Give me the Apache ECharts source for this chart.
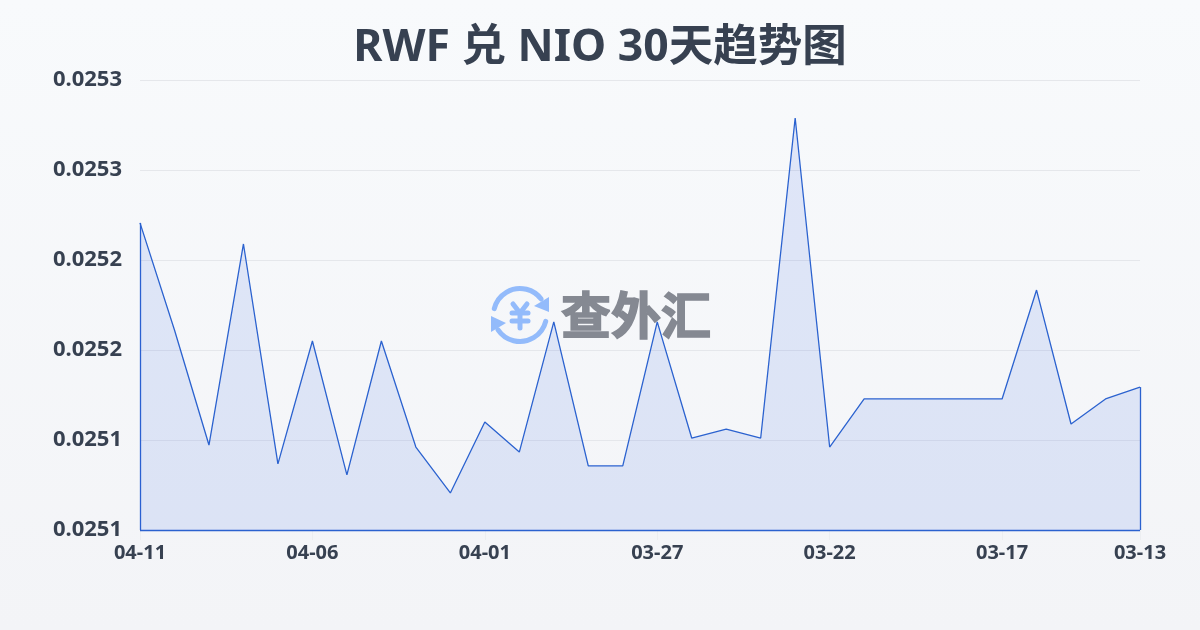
<!DOCTYPE html>
<html><head><meta charset="utf-8">
<style>html,body{margin:0;padding:0;background:#f8fafc}#c{width:1200px;height:630px}</style>
<script src="https://cdn.jsdelivr.net/npm/echarts@6/dist/echarts.min.js"></script>
</head><body><div id="c"></div>
<script>
const titleText = 'RWF 兑 NIO 30天趋势图';
const watermarkText = '查外汇';
const dates = ['04-11','04-10','04-09','04-08','04-07','04-06','04-05','04-04','04-03','04-02','04-01','03-31','03-30','03-29','03-28','03-27','03-26','03-25','03-24','03-23','03-22','03-21','03-20','03-19','03-18','03-17','03-16','03-15','03-14','03-13'];
const rates = [0.0252206,0.0251611,0.0250972,0.0252089,0.0250867,0.025155,0.0250806,0.025155,0.0250961,0.0250706,0.0251100,0.0250933,0.0251656,0.0250856,0.0250856,0.0251656,0.0251011,0.0251061,0.0251011,0.0252789,0.0250961,0.0251228,0.0251228,0.0251228,0.0251228,0.0251228,0.0251833,0.0251089,0.0251228,0.0251294];
const yTickLabels = ['0.0251','0.0251','0.0252','0.0252','0.0253','0.0253'];
const yMin = 0.02505, yMax = 0.0253, yStep = 0.00005;

const font = '"Noto Sans","Noto Sans CJK SC",sans-serif';
const textColor = '#374151';
const lineBlue = '#2b62cf';
const iconBlue = '#93bbfb';
const lastIdx = dates.length - 1;
const showTick = i => i % 5 === 0 || i === lastIdx;

function iconStroke(shapeType, shape) {
  return {type: shapeType, shape, silent: true, style: {stroke: iconBlue, fill: 'none', lineWidth: 5, lineCap: 'round', lineJoin: 'round'}};
}
const deg = d => d * Math.PI / 180;
const chart = echarts.init(document.getElementById('c'), null, {renderer: 'canvas'});
chart.setOption({
  animation: false,
  backgroundColor: new echarts.graphic.LinearGradient(0, 0, 0, 1, [{offset: 0, color: '#f8fafc'}, {offset: 1, color: '#f3f4f7'}]),
  title: {text: titleText, left: 'center', top: 21, textStyle: {fontFamily: font, fontSize: 44.5, fontWeight: 'bold', color: textColor}},
  grid: {left: 140, right: 60, top: 80, bottom: 100},
  xAxis: {
    type: 'category', boundaryGap: false, data: dates,
    axisLine: {show: false},
    axisTick: {show: true, interval: (i) => showTick(i), length: 10, lineStyle: {color: '#eceef1'}},
    axisLabel: {interval: (i) => showTick(i), margin: 13, fontFamily: font, fontSize: 20, fontWeight: 'bold', color: textColor, hideOverlap: false}
  },
  yAxis: {
    type: 'value', min: yMin, max: yMax, interval: yStep,
    axisLine: {show: false}, axisTick: {show: false},
    splitLine: {show: true, lineStyle: {color: '#e5e7eb', width: 1}},
    axisLabel: {formatter: (v, i) => yTickLabels[i], margin: 18, fontFamily: font, fontSize: 22, fontWeight: 'bold', color: textColor}
  },
  series: [{
    type: 'line', data: rates, showSymbol: false, symbol: 'none', smooth: false, z: 5,
    lineStyle: {color: lineBlue, width: 1.3},
    areaStyle: {color: 'rgba(35,90,230,0.16)'},
    markLine: {
      silent: true, symbol: 'none', animation: false, label: {show: false},
      lineStyle: {color: lineBlue, width: 1.3, type: 'solid'},
      emphasis: {disabled: true},
      data: [
        [{coord: [dates[0], yMin]}, {coord: [dates[0], rates[0]]}],
        [{coord: [dates[lastIdx], yMin]}, {coord: [dates[lastIdx], rates[lastIdx]]}],
        [{coord: [dates[0], yMin]}, {coord: [dates[lastIdx], yMin]}]
      ]
    }
  }],
  graphic: [{
    type: 'group', x: 0, y: 0, z: 1, silent: true,
    children: [
      iconStroke('arc', {cx: 520, cy: 315, r: 26.5, startAngle: deg(194), endAngle: deg(323)}),
      iconStroke('arc', {cx: 520, cy: 315, r: 26.5, startAngle: deg(14), endAngle: deg(146)}),
      {type: 'polygon', shape: {points: [[549,297],[549,312],[534,306]]}, style: {fill: iconBlue}},
      {type: 'polygon', shape: {points: [[491,316],[491,332],[506,323]]}, style: {fill: iconBlue}},
      iconStroke('polyline', {points: [[513,304],[520,313],[527,304]]}),
      iconStroke('polyline', {points: [[512,313],[528,313]]}),
      iconStroke('polyline', {points: [[512,321],[528,321]]}),
      iconStroke('polyline', {points: [[520,313],[520,328]]}),
      {type: 'text', style: {x: 636, y: 315, text: watermarkText, align: 'center', verticalAlign: 'middle', font: 'bold 50px "Noto Sans CJK SC"', fill: '#858992', stroke: '#858992', lineWidth: 1.6}}
    ]
  }]
});
</script></body></html>
